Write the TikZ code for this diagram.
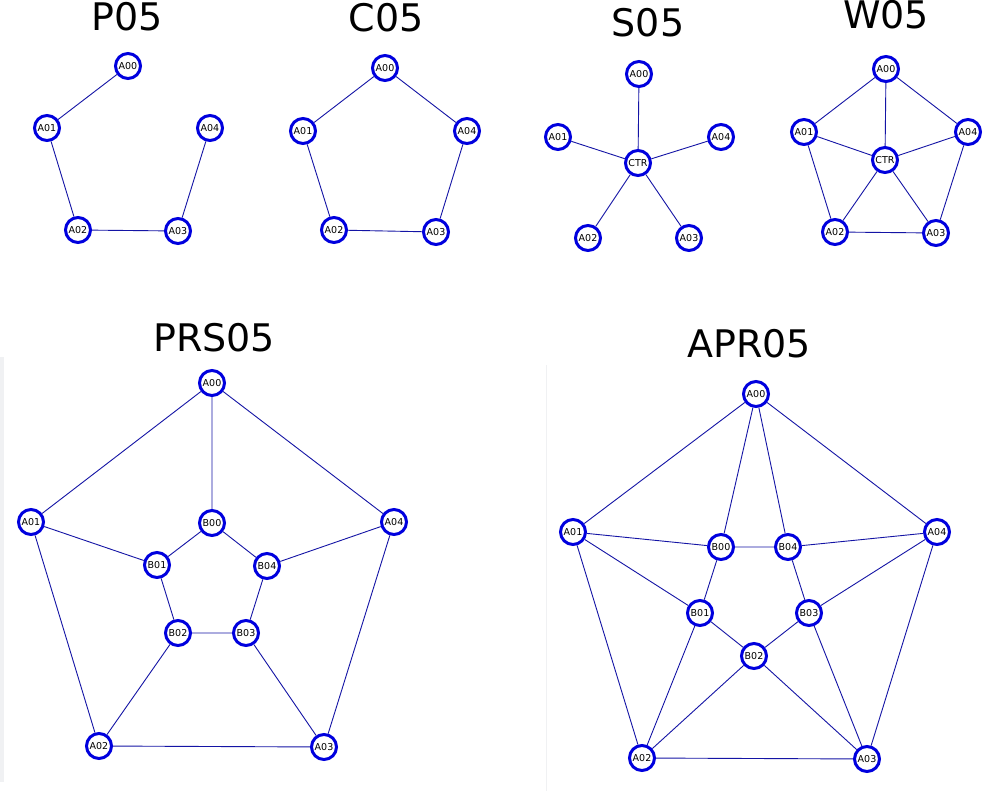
\documentclass[tikz,border=0pt]{standalone}
\usepackage{fontspec}
\setmainfont{DejaVu Sans}
\definecolor{vblue}{RGB}{0,0,222}
\definecolor{eblue}{RGB}{20,20,165}
\definecolor{panel}{RGB}{240,241,243}
\begin{document}
\begin{tikzpicture}[x=1pt,y=-1pt,
  vx/.style={circle, draw=vblue, line width=3pt, minimum size=25pt, inner sep=0pt, fill=white, font=\fontsize{9.5}{10}\selectfont},
  ttl/.style={anchor=base, font=\fontsize{38}{40}\selectfont, inner sep=0pt},
  ed/.style={draw=eblue, line width=0.9pt}]
\useasboundingbox (0,0) rectangle (984,791);
\fill[white] (0,0) rectangle (984,791);
% faint panel edges
\fill[panel] (0,357) rectangle (4,782);
\draw[panel, line width=1pt] (546.5,365) -- (546.5,791);

% ---------- P05 ----------
\node[ttl] (tp) at (127,31) {P05};
\node[vx] (p0) at (128,66) {A00};
\node[vx] (p1) at (47,128) {A01};
\node[vx] (p4) at (210,128) {A04};
\node[vx] (p2) at (78,230) {A02};
\node[vx] (p3) at (178,231) {A03};
\draw[ed] (p0) -- (p1) (p1) -- (p2) (p2) -- (p3) (p3) -- (p4);

% ---------- C05 ----------
\node[ttl] (tc) at (386,32) {C05};
\node[vx] (c0) at (385,68) {A00};
\node[vx] (c1) at (303,131) {A01};
\node[vx] (c4) at (467,131) {A04};
\node[vx] (c2) at (334,230) {A02};
\node[vx] (c3) at (436,232) {A03};
\draw[ed] (c0) -- (c1) (c1) -- (c2) (c2) -- (c3) (c3) -- (c4) (c4) -- (c0);

% ---------- S05 ----------
\node[ttl] (ts) at (648,37) {S05};
\node[vx] (s0) at (639,74) {A00};
\node[vx] (s1) at (558,137) {A01};
\node[vx] (s4) at (721,137) {A04};
\node[vx] (sc) at (638,163) {CTR};
\node[vx] (s2) at (588,238) {A02};
\node[vx] (s3) at (689,238) {A03};
\draw[ed] (sc) -- (s0) (sc) -- (s1) (sc) -- (s2) (sc) -- (s3) (sc) -- (s4);

% ---------- W05 ----------
\node[ttl] (tw) at (886,29) {W05};
\node[vx] (w0) at (886,69) {A00};
\node[vx] (w1) at (804,132) {A01};
\node[vx] (w4) at (968,132) {A04};
\node[vx] (wc) at (885,160) {CTR};
\node[vx] (w2) at (835,232) {A02};
\node[vx] (w3) at (936,233) {A03};
\draw[ed] (w0) -- (w1) (w1) -- (w2) (w2) -- (w3) (w3) -- (w4) (w4) -- (w0)
  (wc) -- (w0) (wc) -- (w1) (wc) -- (w2) (wc) -- (w3) (wc) -- (w4);

% ---------- PRS05 ----------
\node[ttl] (tprs) at (214,351) {PRS05};
\node[vx] (ra0) at (212,383) {A00};
\node[vx] (ra1) at (31,522) {A01};
\node[vx] (ra4) at (394,522) {A04};
\node[vx] (ra2) at (99,746) {A02};
\node[vx] (ra3) at (324,747) {A03};
\node[vx] (rb0) at (212,523) {B00};
\node[vx] (rb1) at (157,565) {B01};
\node[vx] (rb4) at (267,566) {B04};
\node[vx] (rb2) at (178,633) {B02};
\node[vx] (rb3) at (246,633) {B03};
\draw[ed] (ra0) -- (ra1) (ra1) -- (ra2) (ra2) -- (ra3) (ra3) -- (ra4) (ra4) -- (ra0)
  (rb0) -- (rb1) (rb1) -- (rb2) (rb2) -- (rb3) (rb3) -- (rb4) (rb4) -- (rb0)
  (ra0) -- (rb0) (ra1) -- (rb1) (ra2) -- (rb2) (ra3) -- (rb3) (ra4) -- (rb4);

% ---------- APR05 ----------
\node[ttl] (tapr) at (749,357) {APR05};
\node[vx] (qa0) at (756,394) {A00};
\node[vx] (qa1) at (573,532) {A01};
\node[vx] (qa4) at (937,532) {A04};
\node[vx] (qa2) at (642,758) {A02};
\node[vx] (qa3) at (867,759) {A03};
\node[vx] (qb0) at (721,547) {B00};
\node[vx] (qb4) at (788,547) {B04};
\node[vx] (qb1) at (700,613) {B01};
\node[vx] (qb3) at (809,613) {B03};
\node[vx] (qb2) at (754,656) {B02};
\draw[ed] (qa0) -- (qa1) (qa1) -- (qa2) (qa2) -- (qa3) (qa3) -- (qa4) (qa4) -- (qa0)
  (qb0) -- (qb4) (qb4) -- (qb3) (qb3) -- (qb2) (qb2) -- (qb1) (qb1) -- (qb0)
  (qa0) -- (qb0) (qa0) -- (qb4)
  (qa1) -- (qb0) (qa1) -- (qb1)
  (qa4) -- (qb4) (qa4) -- (qb3)
  (qa2) -- (qb1) (qa2) -- (qb2)
  (qa3) -- (qb2) (qa3) -- (qb3);
\end{tikzpicture}
\end{document}
